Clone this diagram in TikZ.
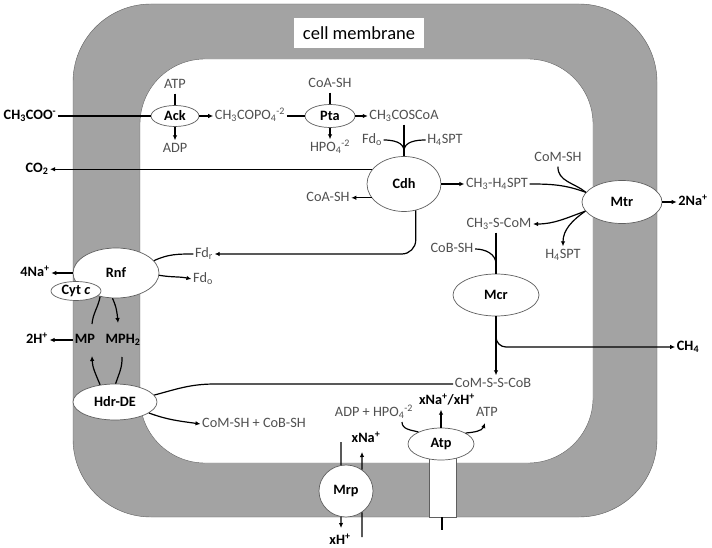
\documentclass[tikz,border=0pt]{standalone}
\usepackage{fontspec}
\setmainfont{Carlito}
\usetikzlibrary{arrows.meta,shapes.geometric}
\definecolor{memgray}{RGB}{163,163,163}
\definecolor{txtgray}{RGB}{80,80,80}
\definecolor{rimgray}{RGB}{95,95,95}

\begin{document}
\fontsize{14.3}{17}\selectfont
\begin{tikzpicture}[x=1pt,y=1pt,
  enz/.style={ellipse,draw=rimgray,fill=white,line width=0.7pt,inner sep=0pt,font=\bfseries},
  met/.style={text=txtgray,inner sep=1.5pt,text height=10.5pt,text depth=3.5pt},
  ext/.style={font=\bfseries,inner sep=1.5pt,text height=10.5pt,text depth=3.5pt},
  flow/.style={line width=1.2pt,-{Latex[length=5pt,width=4.5pt]}},
  link/.style={line width=1.2pt}]
  \useasboundingbox (0,0) rectangle (712,-548) ;
  \draw[fill=memgray,draw=rimgray,rounded corners=78pt] (73,-4) rectangle (657,-517) ;
  \draw[fill=white,draw=rimgray,rounded corners=65pt] (140,-59) rectangle (593,-463) ;
  \node[fill=white,minimum width=130pt,minimum height=30pt,font=\fontsize{18.5}{20}\selectfont] (title) at (359,-33) {cell membrane} ;
  \draw[fill=white,draw=rimgray] (429,-456) rectangle (456,-517) ;
  \coordinate (atpfoot) at (442,-530) ;
  \draw[link] (atpfoot |- 0,-517) -- (atpfoot) ;

  \node[enz,minimum width=48pt,minimum height=21pt] (ack) at (175,-116) {Ack} ;
  \node[enz,minimum width=50pt,minimum height=23pt] (pta) at (330,-116) {Pta} ;
  \node[enz,minimum width=74pt,minimum height=55pt] (cdh) at (404,-184) {Cdh} ;
  \node[enz,minimum width=80pt,minimum height=43pt] (mtr) at (622,-202) {Mtr} ;
  \node[enz,minimum width=86pt,minimum height=42pt] (mcr) at (496,-295) {Mcr} ;
  \node[enz,minimum width=86pt,minimum height=50pt] (rnf) at (116,-273) {Rnf} ;
  \node[enz,minimum width=50pt,minimum height=19pt] (cytc) at (76,-291) {Cyt \textit{c}} ;
  \node[enz,minimum width=84pt,minimum height=36pt] (hdr) at (115,-402) {Hdr-DE} ;
  \node[enz,minimum width=54pt,minimum height=52pt] (mrp) at (346,-491) {Mrp} ;
  \node[enz,minimum width=66pt,minimum height=32pt] (atp) at (441,-444) {Atp} ;

  \node[ext] (ch3coo) at (30,-116) {CH\textsubscript{3}COO\textsuperscript{-}} ;
  \node[met] (atp1) at (175,-85) {ATP} ;
  \node[met] (adp1) at (175,-149) {ADP} ;
  \node[met] (ch3copo4) at (250,-116) {CH\textsubscript{3}COPO\textsubscript{4}\textsuperscript{-2}} ;
  \node[met] (coash1) at (330,-84) {CoA-SH} ;
  \node[met] (hpo4a) at (330,-148) {HPO\textsubscript{4}\textsuperscript{-2}} ;
  \node[met] (ch3coscoa) at (404,-116) {CH\textsubscript{3}COSCoA} ;
  \node[met] (fdo1) at (372,-140) {Fd\textsubscript{o}} ;
  \node[met] (h4spt1) at (445,-140) {H\textsubscript{4}SPT} ;
  \node[ext] (co2) at (37,-169) {CO\textsubscript{2}} ;
  \node[met] (coash2) at (328,-198) {CoA-SH} ;
  \node[met] (ch3h4spt) at (497,-184) {CH\textsubscript{3}-H\textsubscript{4}SPT} ;
  \node[met] (comsh1) at (558,-158) {CoM-SH} ;
  \node[ext] (na2) at (693,-202) {2Na\textsuperscript{+}} ;
  \node[met] (ch3scom) at (499,-224) {CH\textsubscript{3}-S-CoM} ;
  \node[met] (h4spt2) at (563,-255) {H\textsubscript{4}SPT} ;
  \node[met] (cobsh) at (452,-249) {CoB-SH} ;
  \node[met] (fdr) at (204,-254) {Fd\textsubscript{r}} ;
  \node[met] (fdo2) at (203,-279) {Fd\textsubscript{o}} ;
  \node[ext] (na4) at (35,-273) {4Na\textsuperscript{+}} ;
  \node[ext] (mp) at (85,-340) {MP} ;
  \node[ext] (mph2) at (123,-340) {MPH\textsubscript{2}} ;
  \node[ext] (h2) at (37,-340) {2H\textsuperscript{+}} ;
  \node[ext] (ch4) at (688,-347) {CH\textsubscript{4}} ;
  \node[met] (comsscob) at (493,-384) {CoM-S-S-CoB} ;
  \node[met] (comcob) at (254,-424) {CoM-SH + CoB-SH} ;
  \node[met] (adphpo4) at (374,-413) {ADP + HPO\textsubscript{4}\textsuperscript{-2}} ;
  \node[met] (atp2) at (487,-413) {ATP} ;
  \node[ext] (xnaxh) at (447,-401) {xNa\textsuperscript{+}/xH\textsuperscript{+}} ;
  \node[ext] (xna) at (366,-439) {xNa\textsuperscript{+}} ;
  \node[ext] (xh) at (340,-541) {xH\textsuperscript{+}} ;

  \coordinate (cdhin) at (404,-151) ;
  \coordinate (mcrin) at (496,-264) ;
  \coordinate (mcrbr) at (496,-335) ;
  \coordinate (hdrbend) at (215,-384) ;
  \coordinate (mpup) at (92,-324) ;
  \coordinate (mpdn) at (92,-356) ;
  \coordinate (mphup) at (118,-323) ;
  \coordinate (mphdn) at (122,-357) ;
  \coordinate (mrpin) at (341,-442) ;
  \coordinate (mrpout) at (362,-537) ;
  \coordinate (xnatip) at (362,-452) ;
  \coordinate (xhtip) at (341,-528) ;
  \coordinate (adpout) at (402,-422) ;
  \coordinate (atpout) at (485,-423) ;

  \draw[link] (ch3coo.east) -- (ack.west) ;
  \draw[link] (atp1.south) -- (ack.north) ;
  \draw[flow] (ack.south) -- (adp1.north) ;
  \draw[flow] (ack.east) -- (ch3copo4.west) ;
  \draw[link] (ch3copo4.east) -- (pta.west) ;
  \draw[link] (coash1.south) -- (pta.north) ;
  \draw[flow] (pta.south) -- (hpo4a.north) ;
  \draw[flow] (pta.east) -- (ch3coscoa.west) ;
  \draw[link] (ch3coscoa.south -| cdh.north) -- (cdh.north) ;
  \draw[link] (fdo1.east) to[out=0,in=90] (cdhin) ;
  \draw[link] (h4spt1.west) to[out=180,in=90] (cdhin) ;
  \draw[flow] (cdh.155) -- (cdh.155 -| co2.east) ;
  \draw[flow] (cdh.203) -- (cdh.203 -| coash2.east) ;
  \draw[flow] (cdh.east) -- (ch3h4spt.west) ;
  \draw[flow,rounded corners=14pt] (cdh.294) |- (fdr.east) ;
  \draw[link] (fdr.west) to[out=180,in=25] (rnf.18) ;
  \draw[flow] (rnf.-3) to[out=-10,in=168] (fdo2.west) ;
  \draw[flow] (rnf.west) -- (na4.east) ;
  \draw[link] (mpup) to[out=85,in=260] (rnf.236) ;
  \draw[flow] (rnf.262) to[out=-65,in=95] (mphup) ;
  \draw[flow] (hdr.131) to[out=112,in=-88] (mpdn) ;
  \draw[link] (mphdn) to[out=-88,in=72] (hdr.88) ;
  \draw[flow] (mp.west) -- (h2.east) ;
  \draw[link] (hdr.10) to[out=15,in=180] (hdrbend) -- (comsscob.west) ;
  \draw[flow] (hdr.-18) to[out=-20,in=172] (comcob.west) ;

  \draw[link] (ch3scom.south -| mcr.north) -- (mcr.north) ;
  \draw[link] (cobsh.east) to[out=0,in=90] (mcrin) ;
  \draw[flow] (mcr.south) -- (comsscob.north -| mcr.south) ;
  \draw[flow,rounded corners=10pt] (mcrbr) |- (ch4.west) ;
  \draw[link] (ch3h4spt.east) to[out=0,in=160] (mtr.165) ;
  \draw[link] (comsh1.south) to[out=-92,in=140] (mtr.165) ;
  \draw[flow] (mtr.194) to[out=200,in=0] (ch3scom.east) ;
  \draw[flow] (mtr.194) to[out=215,in=90] (h4spt2.north) ;
  \draw[flow] (mtr.east) -- (na2.west) ;

  \draw[link] (mrp.101) -- (mrpin) ;
  \draw[flow] (mrp.53) -- (xnatip) ;
  \draw[flow] (mrp.-101) -- (xhtip) ;
  \draw[link] (mrp.-53) -- (mrpout) ;
  \draw[flow] (atp.north) -- (atp.north |- xnaxh.south) ;
  \draw[link] (adpout) to[out=-90,in=165] (atp.152) ;
  \draw[flow] (atp.24) to[out=5,in=-110] (atpout) ;
\end{tikzpicture}
\end{document}
